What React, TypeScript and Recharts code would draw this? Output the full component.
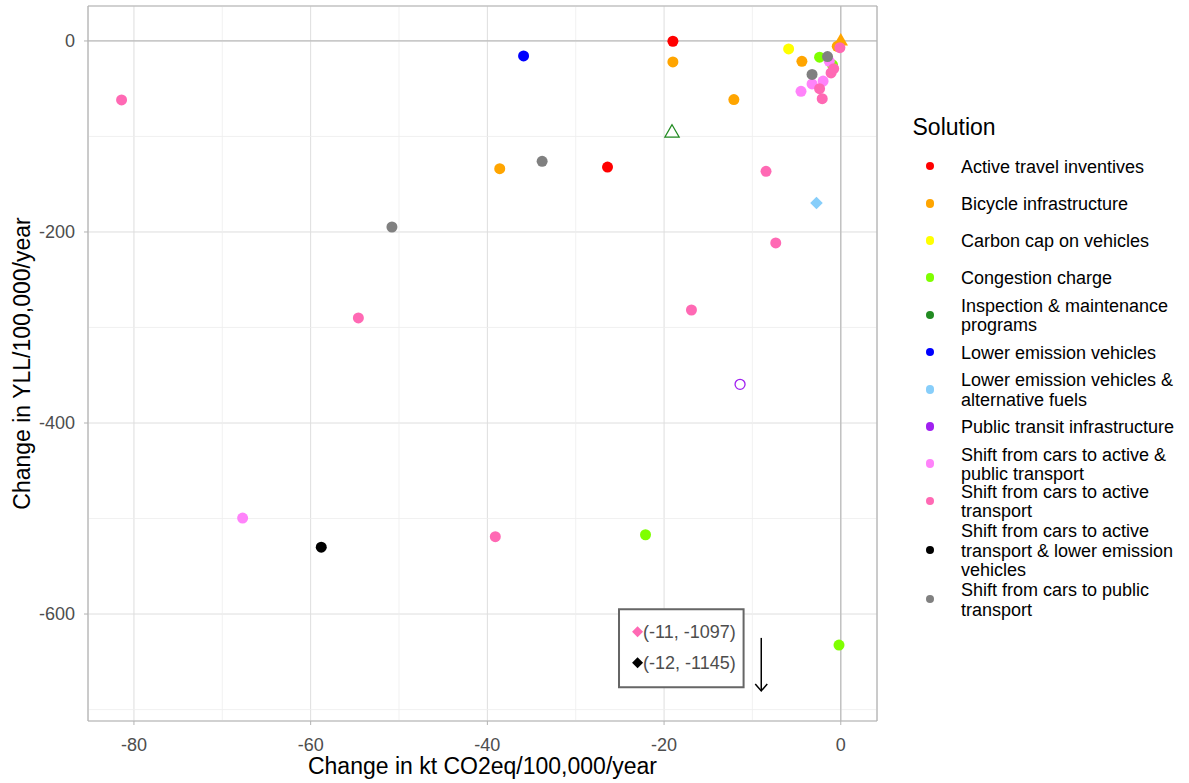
import React from 'react';
import {
  ScatterChart,
  Scatter,
  XAxis,
  YAxis,
  CartesianGrid,
  ReferenceLine,
  ReferenceArea,
  Legend,
  Label,
} from 'recharts';

const FONT = '"Liberation Sans", Arial, Helvetica, sans-serif';

const solutions = [
  'Active travel inventives',
  'Bicycle infrastructure',
  'Carbon cap on vehicles',
  'Congestion charge',
  'Inspection & maintenance programs',
  'Lower emission vehicles',
  'Lower emission vehicles & alternative fuels',
  'Public transit infrastructure',
  'Shift from cars to active & public transport',
  'Shift from cars to active transport',
  'Shift from cars to active transport & lower emission vehicles',
  'Shift from cars to public transport',
];

const solutionLegendLines = [
  ['Active travel inventives'],
  ['Bicycle infrastructure'],
  ['Carbon cap on vehicles'],
  ['Congestion charge'],
  ['Inspection & maintenance', 'programs'],
  ['Lower emission vehicles'],
  ['Lower emission vehicles &', 'alternative fuels'],
  ['Public transit infrastructure'],
  ['Shift from cars to active &', 'public transport'],
  ['Shift from cars to active', 'transport'],
  ['Shift from cars to active', 'transport & lower emission', 'vehicles'],
  ['Shift from cars to public', 'transport'],
];

const solutionColors = [
  '#FF0000',
  '#FFA500',
  '#FFFF00',
  '#7FFF00',
  '#228B22',
  '#0000FF',
  '#87CEFA',
  '#A020F0',
  '#FF83FA',
  '#FF69B4',
  '#000000',
  '#808080',
];

// Points: solution index, x (kt CO2eq), y (YLL), marker shape
const pointSolution = [
  0, 0,
  1, 1, 1, 1, 1, 1,
  2,
  3, 3, 3, 3,
  4,
  5,
  6,
  7,
  8, 8, 8, 8, 8,
  9, 9, 9, 9, 9, 9, 9, 9, 9, 9, 9,
  10,
  11, 11, 11, 11,
];
const pointX = [
  -19.0, -26.4,
  -19.0, -12.1, -38.6, -4.4, -0.4, 0.0,
  -5.9,
  -2.4, -0.94, -22.1, -0.2,
  -19.1,
  -35.9,
  -2.75,
  -11.4,
  -67.7, -1.3, -3.25, -2.0, -4.5,
  -81.4, -54.6, -39.1, -16.9, -8.46, -7.36, -1.1, -2.4, -2.1, -0.1, -0.8,
  -58.8,
  -33.8, -50.8, -1.5, -3.25,
];
const pointY = [
  -0.3, -132,
  -22, -61.4, -133.7, -21.3, -5.6, 0.5,
  -8.4,
  -17, -25, -517, -632.5,
  -95.5,
  -15.7,
  -169.6,
  -359.5,
  -499.5, -21.3, -45, -42, -52.7,
  -61.8, -290, -519, -281.7, -136.5, -211.5, -33.5, -50, -60.4, -7, -29,
  -530,
  -126, -194.8, -16.4, -35,
];
const pointShape = [
  'circle', 'circle',
  'circle', 'circle', 'circle', 'circle', 'circle', 'triangle',
  'circle',
  'circle', 'circle', 'circle', 'circle',
  'triangleOpen',
  'circle',
  'diamond',
  'circleOpen',
  'circle', 'circle', 'circle', 'circle', 'circle',
  'circle', 'circle', 'circle', 'circle', 'circle', 'circle', 'circle', 'circle', 'circle', 'circle', 'circle',
  'circle',
  'circle', 'circle', 'circle', 'circle',
];

const xDomain = [-85.2, 4.1];
const yDomain = [-712, 36.6];
const xTicks = [-80, -60, -40, -20, 0];
const yTicks = [-600, -400, -200, 0];
const xMinorTicks = [-70, -50, -30, -10];
const yMinorTicks = [-700, -500, -300, -100];

// Off-chart points noted in the box
const annotationLabels = ['(-11, -1097)', '(-12, -1145)'];
const annotationColors = ['#FF69B4', '#000000'];
const annotationX = [-23.0, -23.0];
const annotationY = [-618.5, -651];
const annotationBoxX = [-25.1, -11.0];
const annotationBoxY = [-676.7, -595];
const arrowX = -9;
const arrowY = [-625, -680.5];

const series = solutions.map((name, i) => ({
  name,
  color: solutionColors[i],
  data: pointSolution
    .map((s, k) => ({ s, x: pointX[k], y: pointY[k], shape: pointShape[k], color: solutionColors[s] }))
    .filter((p) => p.s === i),
}));

const annotationData = annotationLabels.map((label, i) => ({
  x: annotationX[i],
  y: annotationY[i],
  label,
  color: annotationColors[i],
}));

const arrowHeadData = [{ x: arrowX, y: arrowY[1] }];

const renderPoint = (props: any) => {
  const { cx, cy, payload } = props;
  if (cx == null || cy == null) return <g />;
  const c = payload.color;
  switch (payload.shape) {
    case 'triangleOpen':
      return (
        <polygon
          points={`${cx},${cy - 7.5} ${cx - 7.2},${cy + 5} ${cx + 7.2},${cy + 5}`}
          fill="none"
          stroke={c}
          strokeWidth={1.2}
        />
      );
    case 'triangle':
      return <polygon points={`${cx},${cy - 7.5} ${cx - 7.2},${cy + 5} ${cx + 7.2},${cy + 5}`} fill={c} />;
    case 'circleOpen':
      return <circle cx={cx} cy={cy} r={5} fill="none" stroke={c} strokeWidth={1.3} />;
    case 'diamond':
      return (
        <polygon
          points={`${cx},${cy - 6.3} ${cx + 6.3},${cy} ${cx},${cy + 6.3} ${cx - 6.3},${cy}`}
          fill={c}
        />
      );
    default:
      return <circle cx={cx} cy={cy} r={5.5} fill={c} />;
  }
};

const renderAnnotation = (props: any) => {
  const { cx, cy, payload } = props;
  if (cx == null || cy == null) return <g />;
  return (
    <g>
      <polygon
        points={`${cx},${cy - 5.5} ${cx + 5.5},${cy} ${cx},${cy + 5.5} ${cx - 5.5},${cy}`}
        fill={payload.color}
      />
      <text
        x={cx + 5.5}
        y={cy}
        dy="0.35em"
        fontSize={18}
        fontFamily={FONT}
        fill="#4D4D4D"
        textAnchor="start"
      >
        {payload.label}
      </text>
    </g>
  );
};

const renderArrowHead = (props: any) => {
  const { cx, cy } = props;
  if (cx == null || cy == null) return <g />;
  return (
    <polyline
      points={`${cx - 6},${cy - 7} ${cx},${cy} ${cx + 6},${cy - 7}`}
      fill="none"
      stroke="#000"
      strokeWidth={1.5}
    />
  );
};

const renderLegend = () => {
  let top = 49;
  return (
    <div style={{ position: 'relative', width: 289, height: 540, fontFamily: FONT, color: '#000' }}>
      <div
        style={{
          position: 'absolute',
          left: 12.5,
          top: 14,
          fontSize: 23,
          lineHeight: '26px',
          whiteSpace: 'nowrap',
        }}
      >
        Solution
      </div>
      {solutionLegendLines.map((lines, i) => {
        const h = lines.length >= 3 ? 61 : 37.2;
        const t = top;
        top += h;
        return (
          <div
            key={solutions[i]}
            style={{
              position: 'absolute',
              left: 0,
              top: t,
              height: h,
              width: 289,
            }}
          >
            <div
              style={{
                position: 'absolute',
                left: 25.7,
                top: h / 2 - 4.3 - 1.5,
                width: 8.6,
                height: 8.6,
                borderRadius: '50%',
                background: solutionColors[i],
              }}
            />
            <div
              style={{
                position: 'absolute',
                left: 61,
                top: h / 2 - (lines.length * 19.6) / 2,
                fontSize: 18,
                lineHeight: '19.6px',
                whiteSpace: 'nowrap',
              }}
            >
              {lines.map((ln, j) => (
                <div key={j}>{ln}</div>
              ))}
            </div>
          </div>
        );
      })}
    </div>
  );
};

export default function App() {
  return (
    <div style={{ position: 'absolute', left: 0, top: 0, width: 1189, height: 783, background: '#fff' }}>
      <ScatterChart
        width={1189}
        height={783}
        margin={{ top: 6, right: 312, bottom: 0, left: 0 }}
        style={{ fontFamily: FONT }}
      >
        <CartesianGrid stroke="#DEDEDE" strokeWidth={1} />
        {xMinorTicks.map((v) => (
          <ReferenceLine key={`mx${v}`} x={v} stroke="#EDEDED" strokeWidth={0.8} />
        ))}
        {yMinorTicks.map((v) => (
          <ReferenceLine key={`my${v}`} y={v} stroke="#EDEDED" strokeWidth={0.8} />
        ))}
        <ReferenceLine y={0} stroke="#BDBDBD" strokeWidth={1.3} />
        <ReferenceLine x={0} stroke="#BDBDBD" strokeWidth={1.3} />
        <ReferenceLine x={xDomain[1]} stroke="#B3B3B3" strokeWidth={1.2} />
        <ReferenceLine y={yDomain[1]} stroke="#B3B3B3" strokeWidth={1.2} />
        <XAxis
          dataKey="x"
          type="number"
          domain={xDomain}
          ticks={xTicks}
          allowDataOverflow
          height={62}
          tickSize={4}
          tickMargin={13}
          axisLine={{ stroke: '#B3B3B3', strokeWidth: 1.2 }}
          tickLine={{ stroke: '#B3B3B3' }}
          tick={{ fill: '#4D4D4D', fontSize: 18, fontFamily: FONT }}
        >
          <Label
            value="Change in kt CO2eq/100,000/year"
            position="insideBottom"
            offset={9}
            fill="#000"
            fontSize={23}
            fontFamily={FONT}
          />
        </XAxis>
        <YAxis
          dataKey="y"
          type="number"
          domain={yDomain}
          ticks={yTicks}
          allowDataOverflow
          width={88}
          tickSize={4}
          tickMargin={9}
          axisLine={{ stroke: '#B3B3B3', strokeWidth: 1.2 }}
          tickLine={{ stroke: '#B3B3B3' }}
          tick={{ fill: '#4D4D4D', fontSize: 18, fontFamily: FONT }}
        >
          <Label
            value="Change in YLL/100,000/year"
            position="center"
            angle={-90}
            dx={-22}
            fill="#000"
            fontSize={23}
            fontFamily={FONT}
          />
        </YAxis>
        <ReferenceArea
          x1={annotationBoxX[0]}
          x2={annotationBoxX[1]}
          y1={annotationBoxY[0]}
          y2={annotationBoxY[1]}
          fill="#FFFFFF"
          fillOpacity={1}
          stroke="#666666"
          strokeWidth={2}
        />
        <ReferenceLine
          segment={[
            { x: arrowX, y: arrowY[0] },
            { x: arrowX, y: arrowY[1] },
          ]}
          stroke="#000"
          strokeWidth={1.5}
        />
        {series.map((s) => (
          <Scatter
            key={s.name}
            name={s.name}
            data={s.data}
            fill={s.color}
            shape={renderPoint}
            isAnimationActive={false}
          />
        ))}
        <Scatter
          name="annotation"
          data={annotationData}
          fill="#000"
          shape={renderAnnotation}
          isAnimationActive={false}
          legendType="none"
        />
        <Scatter
          name="arrow"
          data={arrowHeadData}
          fill="#000"
          shape={renderArrowHead}
          isAnimationActive={false}
          legendType="none"
        />
        <Legend
          layout="vertical"
          align="center"
          verticalAlign="middle"
          content={renderLegend}
          wrapperStyle={{ left: 900, top: 100, width: 289, height: 540 }}
        />
      </ScatterChart>
    </div>
  );
}
